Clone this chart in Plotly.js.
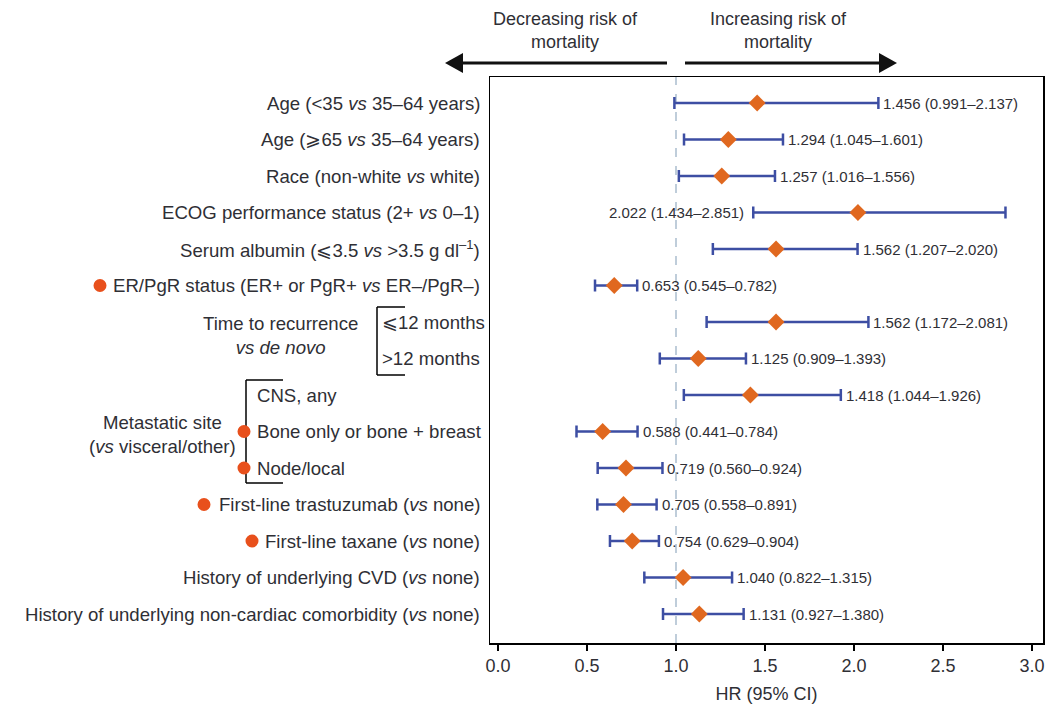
<!DOCTYPE html>
<html><head><meta charset="utf-8">
<script src="https://cdn.plot.ly/plotly-3.0.1.min.js"></script>
<style>body{margin:0;background:#fff}#chart{width:1064px;height:705px}</style>
</head><body><div id="chart"></div>
<script>
// ---- data ----
const labels = [
  'Age (&lt;35 <i>vs</i> 35–64 years)',
  'Age (⩾65 <i>vs</i> 35–64 years)',
  'Race (non-white <i>vs</i> white)',
  'ECOG performance status (2+ <i>vs</i> 0–1)',
  'Serum albumin (⩽3.5 <i>vs</i> &gt;3.5 g dl<sup>–1</sup>)',
  'ER/PgR status (ER+ or PgR+ <i>vs</i> ER–/PgR–)',
  '⩽12 months',
  '&gt;12 months',
  'CNS, any',
  'Bone only or bone + breast',
  'Node/local',
  'First-line trastuzumab (<i>vs</i> none)',
  'First-line taxane (<i>vs</i> none)',
  'History of underlying CVD (<i>vs</i> none)',
  'History of underlying non-cardiac comorbidity (<i>vs</i> none)'
];
const hr = [1.456, 1.294, 1.257, 2.022, 1.562, 0.653, 1.562, 1.125, 1.418, 0.588, 0.719, 0.705, 0.754, 1.040, 1.131];
const lo = [0.991, 1.045, 1.016, 1.434, 1.207, 0.545, 1.172, 0.909, 1.044, 0.441, 0.560, 0.558, 0.629, 0.822, 0.927];
const hi = [2.137, 1.601, 1.556, 2.851, 2.020, 0.782, 2.081, 1.393, 1.926, 0.784, 0.924, 0.891, 0.904, 1.315, 1.380];
const xTicks = [0, 0.5, 1.0, 1.5, 2.0, 2.5, 3.0];
const xTickText = ['0.0', '0.5', '1.0', '1.5', '2.0', '2.5', '3.0'];
const groupTTR = ['Time to recurrence', '<i>vs de novo</i>'];
const groupMet = ['Metastatic site', '(<i>vs</i> visceral/other)'];
const topLeft = 'Decreasing risk of<br>mortality';
const topRight = 'Increasing risk of<br>mortality';
const xTitle = 'HR (95% CI)';

// ---- layout helpers ----
const L = 490, R = 1043, T = 77, B = 643;
const W = R - L, H = B - T;
const rowY0 = 103, rowStep = 36.5;
const px = p => (p - L) / W;            // pixel x -> paper x
const py = p => (B - p) / H;            // pixel y -> paper y
const ry = p => 1 + (p - rowY0) / rowStep; // pixel y -> row value
const rows = hr.map((_, i) => i + 1);

const FONT = 'Liberation Sans, Arial, Helvetica, sans-serif';
const TXT = '#2f2f35';
const BLUE = '#3d4ea3';
const ORANGE = '#e0681f';
const DOT = '#e8501c';
const LSIZE = 18.6;

const traces = [{
  type: 'scatter', mode: 'markers',
  x: hr, y: rows,
  marker: {symbol: 'diamond', size: 13, color: ORANGE, line: {width: 0}},
  error_x: {type: 'data', symmetric: false,
    array: hi.map((h, i) => h - hr[i]),
    arrayminus: lo.map((l, i) => hr[i] - l),
    color: BLUE, thickness: 2.5, width: 6},
  hoverinfo: 'x', showlegend: false
}];

const ann = [];
const leftAlignRows = {6: 380, 7: 380, 8: 255, 9: 255, 10: 255};
labels.forEach((t, i) => {
  const la = leftAlignRows[i];
  ann.push({xref: 'paper', yref: 'y', x: la !== undefined ? px(la) : px(482), y: rows[i],
    xanchor: la !== undefined ? 'left' : 'right', yanchor: 'middle',
    text: t, showarrow: false, font: {family: FONT, size: LSIZE, color: TXT}});
});
// value labels
hr.forEach((h, i) => {
  const s = h.toFixed(3) + ' (' + lo[i].toFixed(3) + '–' + hi[i].toFixed(3) + ')';
  const left = (i === 3);
  ann.push({xref: 'x', yref: 'y', x: left ? lo[i] : hi[i], y: rows[i],
    xanchor: left ? 'right' : 'left', yanchor: 'middle',
    xshift: left ? -7 : 3,
    text: s, showarrow: false, font: {family: FONT, size: 15, color: TXT}});
});
// group labels
ann.push({xref: 'paper', yref: 'y', x: px(280), y: ry(335), xanchor: 'center', yanchor: 'middle',
  text: groupTTR.join('<br>'), showarrow: false, font: {family: FONT, size: LSIZE, color: TXT}});
ann.push({xref: 'paper', yref: 'y', x: px(162), y: ry(434), xanchor: 'center', yanchor: 'middle',
  text: groupMet.join('<br>'), showarrow: false, font: {family: FONT, size: LSIZE, color: TXT}});
// top texts
ann.push({xref: 'paper', yref: 'paper', x: px(565), y: py(30), xanchor: 'center', yanchor: 'middle',
  text: topLeft, showarrow: false, font: {family: FONT, size: 18, color: TXT}});
ann.push({xref: 'paper', yref: 'paper', x: px(778), y: py(30), xanchor: 'center', yanchor: 'middle',
  text: topRight, showarrow: false, font: {family: FONT, size: 18, color: TXT}});

const shapes = [];
// reference line at HR = 1
shapes.push({type: 'line', xref: 'x', yref: 'paper', x0: 1, x1: 1, y0: 0, y1: 1,
  line: {color: '#bfcdda', width: 2, dash: 'dash'}, layer: 'below'});
// brackets
const bracket = (xv, xh, y0, y1) => {
  const c = {color: '#000', width: 1.5};
  shapes.push({type: 'line', xref: 'paper', yref: 'y', x0: px(xv), x1: px(xv), y0: ry(y0), y1: ry(y1), line: c});
  shapes.push({type: 'line', xref: 'paper', yref: 'y', x0: px(xv), x1: px(xh), y0: ry(y0), y1: ry(y0), line: c});
  shapes.push({type: 'line', xref: 'paper', yref: 'y', x0: px(xv), x1: px(xh), y0: ry(y1), y1: ry(y1), line: c});
};
bracket(377, 405, 307, 375);
bracket(246, 283, 380, 483);
// significance dots
[[100, 5], [244, 9], [244, 10], [204, 11], [252, 12]].forEach(([xp, r]) => {
  shapes.push({type: 'circle', xref: 'paper', yref: 'y', xsizemode: 'pixel', ysizemode: 'pixel',
    xanchor: px(xp), yanchor: rows[r], x0: -6.5, x1: 6.5, y0: -6.5, y1: 6.5,
    fillcolor: DOT, line: {width: 0}});
});
// top arrows
const ay = 63;
shapes.push({type: 'line', xref: 'paper', yref: 'paper', x0: px(460), x1: px(667), y0: py(ay), y1: py(ay), line: {color: '#111', width: 3}});
shapes.push({type: 'line', xref: 'paper', yref: 'paper', x0: px(685), x1: px(882), y0: py(ay), y1: py(ay), line: {color: '#111', width: 3}});
shapes.push({type: 'path', xref: 'paper', yref: 'paper', fillcolor: '#111', line: {width: 0},
  path: `M${px(445)},${py(ay)} L${px(463)},${py(ay - 10)} L${px(463)},${py(ay + 10)} Z`});
shapes.push({type: 'path', xref: 'paper', yref: 'paper', fillcolor: '#111', line: {width: 0},
  path: `M${px(897)},${py(ay)} L${px(879)},${py(ay - 10)} L${px(879)},${py(ay + 10)} Z`});

const x0px = 498, xs = 178;
const layout = {
  width: 1064, height: 705,
  margin: {l: L, r: 1064 - R, t: T, b: 705 - B, pad: 0},
  paper_bgcolor: '#fff', plot_bgcolor: '#fff',
  font: {family: FONT, size: 18, color: TXT},
  xaxis: {range: [(L - x0px) / xs, (R - x0px) / xs], tickvals: xTicks, ticktext: xTickText,
    showgrid: false, zeroline: false, showline: true, mirror: true, linecolor: '#000', linewidth: 1.5,
    ticks: 'outside', ticklen: 6, tickwidth: 1.5, tickcolor: '#000',
    tickfont: {family: FONT, size: 18, color: TXT},
    title: {text: xTitle, font: {family: FONT, size: 18, color: TXT}, standoff: 12}},
  yaxis: {range: [ry(B), ry(T)], showgrid: false, zeroline: false, showticklabels: false,
    showline: true, mirror: true, linecolor: '#000', linewidth: 1.5, ticks: ''},
  annotations: ann, shapes: shapes, showlegend: false
};
Plotly.newPlot('chart', traces, layout, {displayModeBar: false, staticPlot: true});
</script></body></html>
